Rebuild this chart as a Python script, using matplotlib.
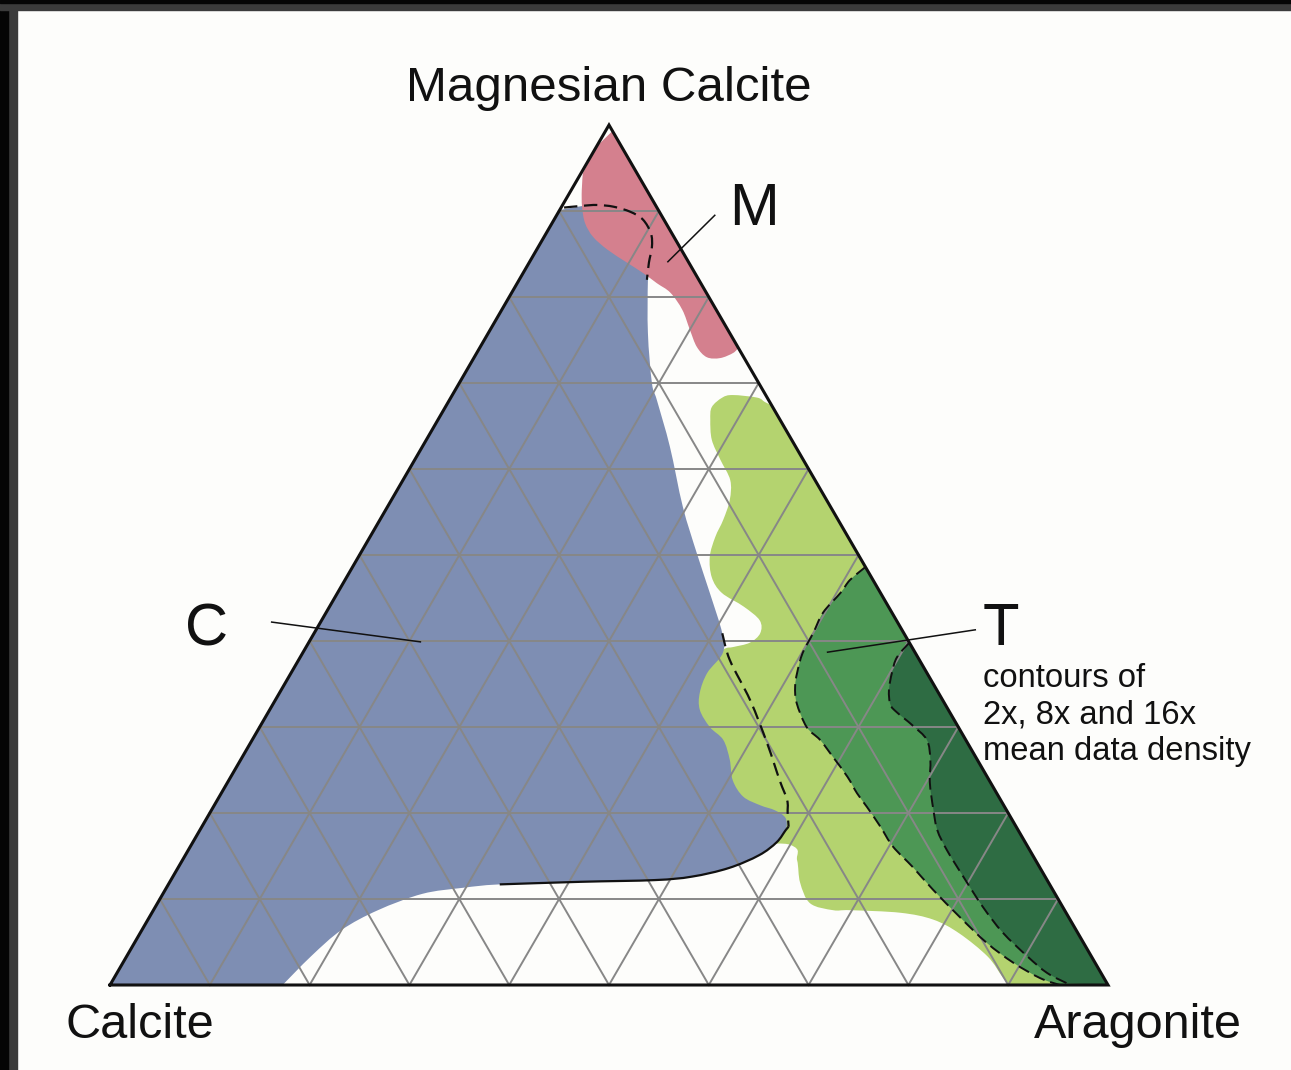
import numpy as np
import matplotlib
matplotlib.use('Agg')
import matplotlib.pyplot as plt
from matplotlib.patches import PathPatch, Polygon, Rectangle
from matplotlib.path import Path

plt.rcParams['font.family'] = ['Liberation Sans', 'DejaVu Sans']

# outlines as (% aragonite, % magnesian calcite)
calcite_field = [
    (0, 0), (17.3, 0), (18.5, 3.4), (20.0, 6.4), (22.5, 8.7), (26.0, 10.6),
    (29.7, 11.3), (33.2, 11.7), (41.2, 12.0), (48.5, 12.2), (52.0, 12.6),
    (55.2, 13.6), (57.5, 15.1), (58.5, 16.6), (58.7, 18.0), (58.0, 19.4),
    (56.5, 20.3), (54.7, 20.9), (52.5, 21.9), (50.5, 23.8), (49.0, 26.2),
    (47.2, 28.5), (45.1, 30.0), (43.1, 32.0), (42.1, 34.0), (41.7, 36.3),
    (42.1, 38.6), (40.9, 40.9), (37.3, 45.6), (33.7, 50.2), (29.6, 55.6),
    (24.8, 62.6), (20.8, 68.0), (19.3, 70.0), (16.0, 75.8), (12.9, 82.0),
    (11.1, 86.0), (9.3, 88.4), (7.4, 89.9), (5.0, 90.6), (2.75, 90.7), (0, 90.1),
]
mg_calcite_field = [
    (0, 97.5), (0.7, 99.3), (25.9, 74.1), (25.7, 73.5), (24.7, 72.9),
    (23.3, 73.0), (21.7, 74.2), (20.0, 76.2), (18.1, 78.5), (15.9, 80.5),
    (14.0, 81.6), (12.0, 82.8), (9.8, 84.0), (7.1, 85.5), (4.9, 87.0),
    (3.3, 88.6), (2.05, 90.5), (1.07, 92.4), (0.18, 94.4), (0.1, 95.9),
]
aragonite_2x = [
    (26.7, 67.2), (27.2, 68.3), (28.1, 68.6), (30.7, 68.3), (31.7, 67.8),
    (32.6, 67.4), (100, 0), (90.2, 0), (89.0, 0.9), (86.3, 3.3), (82.1, 6.0),
    (78.7, 7.6), (75.0, 8.4), (69.8, 8.7), (68.1, 8.7), (65.4, 9.5),
    (63.2, 11.9), (61.6, 14.5), (60.0, 16.3), (52.0, 18.0), (42.0, 32.0),
    (40.0, 37.0), (41.9, 39.0), (42.8, 39.3), (44.2, 39.8), (44.7, 40.9),
    (43.9, 42.4), (41.5, 44.0), (38.5, 45.6), (36.6, 47.4), (35.2, 49.8),
    (34.6, 52.1), (34.4, 54.1), (33.9, 56.4), (32.8, 58.7), (30.6, 61.1),
    (28.6, 63.4), (27.3, 65.7),
]
aragonite_8x = [
    (51.4, 48.6), (50.6, 47.1), (50.4, 45.6), (49.8, 43.3), (50.0, 40.9),
    (50.1, 38.6), (50.7, 36.3), (51.3, 34.7), (52.4, 32.8), (54.8, 30.0),
    (56.9, 28.5), (59.2, 26.5), (61.8, 24.2), (63.7, 22.3), (65.5, 20.7),
    (68.0, 18.4), (70.4, 16.1), (73.6, 13.7), (76.9, 11.1), (81.2, 7.9),
    (85.4, 4.9), (89.2, 2.6), (92.8, 0.8), (95.2, 0), (100, 0),
]
aragonite_16x = [
    (60.2, 39.8), (59.8, 38.1), (60.2, 36.3), (60.9, 34.3), (61.9, 32.6),
    (63.0, 31.7), (65.3, 30.2), (67.6, 28.5), (69.1, 26.2), (70.4, 23.5),
    (72.3, 20.4), (73.9, 18.0), (76.0, 15.7), (79.2, 12.6), (82.9, 9.1),
    (86.4, 6.1), (90.3, 3.3), (93.2, 1.4), (95.8, 0.2), (100, 0),
]
# contour round the calcite + magnesian calcite field
mixing_upper = [
    (0.3, 90.4), (2.0, 90.6), (3.45, 90.7), (5.2, 90.5), (7.2, 89.9), (8.9, 89.0),
    (10.5, 87.4), (11.4, 85.8), (12.0, 84.0), (12.8, 82.0),
]
mixing_lower = [
    (40.9, 40.9), (43.2, 37.8), (47.6, 33.1), (51.8, 28.1), (55.2, 23.8),
    (57.1, 21.5), (57.9, 20.0), (58.8, 18.4),
]
mixing_solid = [
    (58.8, 18.4), (58.7, 18.0), (58.5, 16.6), (57.5, 15.1), (55.2, 13.6),
    (52.0, 12.6), (48.5, 12.2), (41.2, 12.0), (33.2, 11.7),
]

corner_names = ['Calcite', 'Aragonite', 'Magnesian Calcite']
field_labels = ['C', 'M', 'T']
contour_note = ['contours of', '2x, 8x and 16x', 'mean data density']


def tern(points):
    p = np.asarray(points, dtype=float) / 100.0
    a, m = p[:, 0], p[:, 1]
    return np.column_stack([a + m / 2, m])


def smooth_path(points, closed=True, nseg=None):
    # catmull-rom through the read points, kept straight at points on the triangle edges
    raw = np.asarray(points, dtype=float)
    P = tern(points)
    n = len(P)
    sharp = (raw[:, 0] < 0.5) | (raw[:, 1] < 0.5) | (raw.sum(axis=1) > 99.5)
    T = np.zeros_like(P)
    for i in range(n):
        if sharp[i]:
            continue
        if closed:
            prev, nxt = P[i - 1], P[(i + 1) % n]
        else:
            prev, nxt = P[max(i - 1, 0)], P[min(i + 1, n - 1)]
        T[i] = (nxt - prev) / 6
    if nseg is None:
        nseg = n if closed else n - 1
    verts, codes = [P[0]], [Path.MOVETO]
    for i in range(nseg):
        j = (i + 1) % n
        verts += [P[i] + T[i], P[j] - T[j], P[j]]
        codes += [Path.CURVE4] * 3
    if closed and nseg == n:
        verts.append(P[0])
        codes.append(Path.CLOSEPOLY)
    return Path(verts, codes)


W, H = 1291, 1070
fig = plt.figure(figsize=(W / 100, H / 100), dpi=100)
fig.patch.set_facecolor('#fdfdfb')
ax = fig.add_axes([0, 0, 1, 1])
ax.set_xlim(-110 / 998, (W - 110) / 998)
ax.set_ylim((985 - H) / 860, 985 / 860)
ax.axis('off')

tri = tern([(0, 0), (100, 0), (0, 100), (0, 0)])
clip = Polygon(tri, closed=True, transform=ax.transData)

# filled fields
fills = [
    (aragonite_2x, '#b4d36f'),
    (calcite_field, '#7e8eb3'),
    (mg_calcite_field, '#d4808e'),
    (aragonite_8x, '#4d9755'),
    (aragonite_16x, '#2e6c43'),
]
for pts, col in fills:
    patch = PathPatch(smooth_path(pts), facecolor=col, edgecolor='none', zorder=1)
    ax.add_patch(patch)
    patch.set_clip_path(clip)

# 10 % grid
for k in range(1, 10):
    f = k * 10
    for seg in ([(0, f), (100 - f, f)], [(f, 0), (f, 100 - f)], [(100 - f, 0), (0, 100 - f)]):
        xy = tern(seg)
        ax.plot(xy[:, 0], xy[:, 1], color='#878787', lw=1.4, zorder=2)

# contour lines
dash = (0, (6, 3))
for pts in (mixing_upper, mixing_lower):
    ax.add_patch(PathPatch(smooth_path(pts, closed=False), fill=False, edgecolor='#111111',
                           lw=1.6, ls=dash, zorder=3))
ax.add_patch(PathPatch(smooth_path(mixing_solid, closed=False), fill=False, edgecolor='#111111',
                       lw=1.6, zorder=3))
for pts in (aragonite_8x, aragonite_16x):
    ax.add_patch(PathPatch(smooth_path(pts, nseg=len(pts) - 2), fill=False, edgecolor='#111111',
                           lw=1.4, ls=dash, zorder=3))

# triangle outline
ax.plot(tri[:, 0], tri[:, 1], color='#111111', lw=2.2, zorder=4, solid_joinstyle='miter')

# corner names
ax.text(0.030, -0.062, corner_names[0], fontsize=35, ha='center', va='baseline', color='#111111')
ax.text(1.030, -0.062, corner_names[1], fontsize=35, ha='center', va='baseline', color='#111111')
ax.text(0.500, 1.028, corner_names[2], fontsize=35.5, ha='center', va='baseline', color='#111111')

# field labels with leader lines
label_pos = [(0.097, 0.395), (0.645, 0.884), (0.893, 0.395)]
leaders = [((0.162, 0.422), (0.311, 0.399)),
           ((0.606, 0.895), (0.559, 0.841)),
           ((0.867, 0.413), (0.719, 0.387))]
for lab, (tx, ty), (p0, p1) in zip(field_labels, label_pos, leaders):
    ax.text(tx, ty, lab, fontsize=43, ha='center', va='baseline', color='#111111')
    ax.plot([p0[0], p1[0]], [p0[1], p1[1]], color='#111111', lw=1.1, zorder=5)

for i, line in enumerate(contour_note):
    ax.text(0.8747, 0.3465 - i * 0.0425, line, fontsize=23.6, ha='left', va='baseline', color='#111111')

# dark scan frame on the top and left
fig.add_artist(Rectangle((0, 0), 17 / W, 1, transform=fig.transFigure, color='#3b3b3b'))
fig.add_artist(Rectangle((0, 0), 8 / W, 1, transform=fig.transFigure, color='#050505'))
fig.add_artist(Rectangle((0, 1 - 10 / H), 1, 10 / H, transform=fig.transFigure, color='#3b3b3b'))
fig.add_artist(Rectangle((0, 1 - 3 / H), 1, 3 / H, transform=fig.transFigure, color='#050505'))

fig.savefig('out.png', dpi=100, facecolor=fig.get_facecolor())
